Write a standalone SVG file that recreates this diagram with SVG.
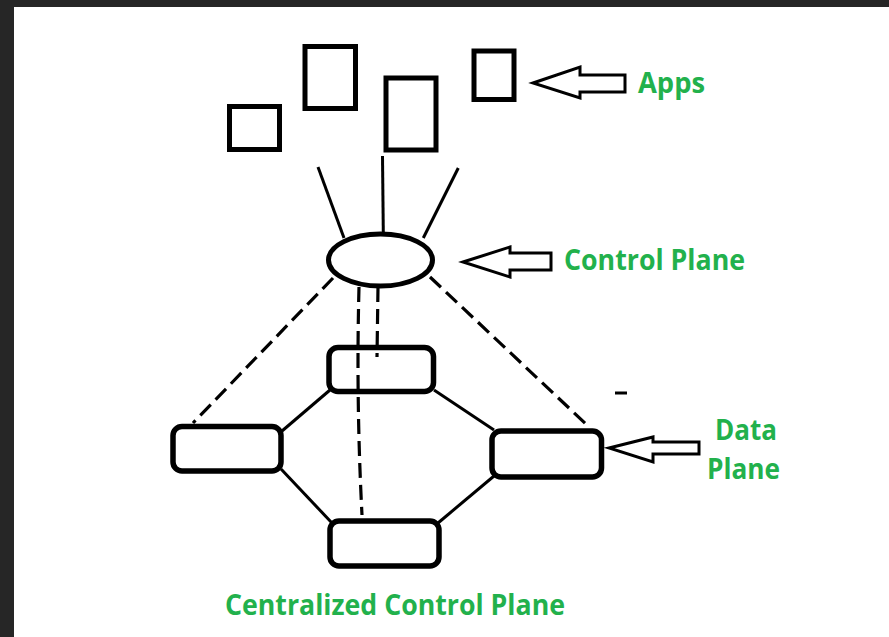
<svg xmlns="http://www.w3.org/2000/svg" width="889" height="637" viewBox="0 0 889 637">
<style>
.box{fill:none;stroke:#000;stroke-width:5}
.dbox{fill:none;stroke:#000;stroke-width:5.5}
.ln{stroke:#000;stroke-width:3;fill:none}
.dash{stroke:#000;stroke-width:3.2;fill:none;stroke-dasharray:15 7}
.arrow{fill:#fff;stroke:#000;stroke-width:3;stroke-linejoin:miter}
.lbl{font-family:"Open Sans","Noto Sans",sans-serif;font-weight:700;font-size:28px;fill:#22B14C}
</style>
<rect x="0" y="0" width="889" height="637" fill="#262626"/>
<rect x="14" y="7" width="875" height="630" fill="#fff"/>
<g id="connectors">
  <line class="ln" x1="318" y1="167" x2="344" y2="238"/>
  <line class="ln" x1="382.5" y1="156" x2="383.3" y2="233"/>
  <line class="ln" x1="458.3" y1="168" x2="423.3" y2="238"/>
  <line class="dash" x1="333" y1="278" x2="193" y2="423"/>
  <line class="dash" x1="430" y1="277" x2="587" y2="425"/>
  <path class="dash" d="M359,287 Q356,400 362,515"/>
  <line class="dash" x1="378" y1="287" x2="377" y2="357"/>
  <line class="ln" x1="330" y1="390" x2="282" y2="431"/>
  <line class="ln" x1="281" y1="469" x2="332" y2="523"/>
  <line class="ln" x1="434" y1="390" x2="494" y2="430"/>
  <line class="ln" x1="494" y1="476" x2="438" y2="523"/>
</g>
<g id="app1"><rect class="box" x="229.5" y="106.5" width="50" height="43"/></g>
<g id="app2"><rect class="box" x="305" y="46.5" width="50.5" height="62"/></g>
<g id="app3"><rect class="box" x="386" y="78" width="50" height="72"/></g>
<g id="app4"><rect class="box" x="474" y="51" width="40" height="48.5"/></g>
<g id="controller"><ellipse class="box" cx="380.5" cy="260" rx="52" ry="26"/></g>
<g id="switch-top"><rect class="dbox" x="329" y="347.5" width="104.5" height="44" rx="9"/></g>
<g id="switch-left"><rect class="dbox" x="173" y="426.5" width="108" height="44.5" rx="9"/></g>
<g id="switch-right"><rect class="dbox" x="492" y="431" width="109.5" height="46" rx="9"/></g>
<g id="switch-bottom"><rect class="dbox" x="330" y="521" width="109" height="45" rx="9"/></g>
<g id="apps-label">
  <polygon class="arrow" points="533,83 580,67 580,75 625,75 625,92 580,92 580,98"/>
  <text class="lbl" x="638" y="93" textLength="67" lengthAdjust="spacingAndGlyphs">Apps</text>
</g>
<g id="control-label">
  <polygon class="arrow" points="463,262 510,247 510,253 551,253 551,270 510,270 510,277"/>
  <text class="lbl" x="564" y="270" textLength="181" lengthAdjust="spacingAndGlyphs">Control Plane</text>
</g>
<g id="data-label">
  <polygon class="arrow" points="609,448 653,437 653,442 699,442 699,454 653,454 653,462"/>
  <text class="lbl" x="715" y="440" textLength="62" lengthAdjust="spacingAndGlyphs">Data</text>
  <text class="lbl" x="707" y="479" textLength="73" lengthAdjust="spacingAndGlyphs">Plane</text>
</g>
<line x1="615" y1="393" x2="627" y2="393" stroke="#000" stroke-width="3"/>
<text class="lbl" x="225" y="615" textLength="340" lengthAdjust="spacingAndGlyphs">Centralized Control Plane</text>
</svg>
